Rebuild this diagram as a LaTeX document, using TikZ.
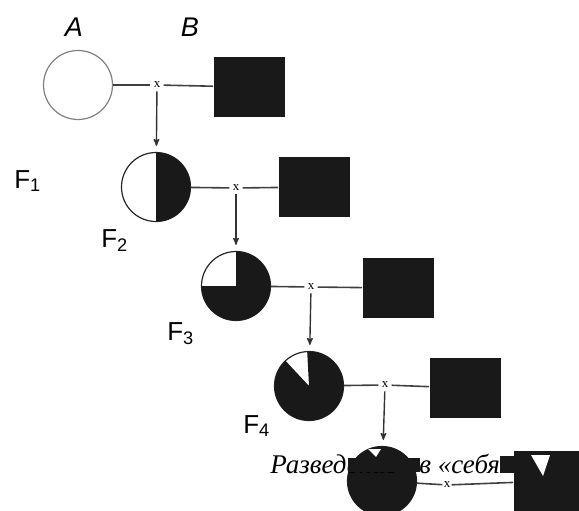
\documentclass[tikz,border=0pt]{standalone}
\usepackage{fontspec}
\setmainfont{Liberation Serif}
\setsansfont{Liberation Sans}
\usetikzlibrary{arrows,positioning}

\begin{document}
\begin{tikzpicture}[x=1pt,y=-1pt]
  \tikzset{
    >=stealth',
    semithick,
    female/.style={circle,draw=black!85,line width=1.2pt,fill=white,minimum size=69pt,inner sep=0pt},
    male/.style={rectangle,fill=black!90,minimum width=71pt,minimum height=60pt,inner sep=0pt},
    cross/.style={font=\fontsize{13}{13}\selectfont,inner sep=3pt},
    parent/.style={font=\sffamily\itshape\fontsize{27}{27}\selectfont},
    gen/.style={font=\sffamily\fontsize{26}{26}\selectfont,anchor=base west,inner sep=0pt},
    note/.style={font=\itshape\fontsize{27}{27}\selectfont,anchor=base west,inner sep=0pt,text depth=0pt},
    link/.style={-,draw=black!75,line width=1.6pt},
    down/.style={->,draw=black!80,line width=1.4pt,shorten >=6pt},
  }
  \useasboundingbox (0,0) rectangle (579,511);

  % parents
  \node [parent] (la) at (74,27)  {A};
  \node [parent] (lb) at (190,27) {B};
  \node [female,draw=black!50] (c0) at (78,85)  {};
  \node [cross] (x0) at (157,85)  {x};
  \node [male]  (s0) at (249,87)  {};

  % backcross generations
  \node [female] (c1) at (156,187) {};
  \node [cross]  (x1) at (236,188) {x};
  \node [male]   (s1) at (314,187) {};

  \node [female] (c2) at (236,286) {};
  \node [cross]  (x2) at (311,287) {x};
  \node [male]   (s2) at (398,288) {};

  \node [female] (c3) at (309,386) {};
  \node [cross]  (x3) at (385,385) {x};
  \node [male]   (s3) at (465,388) {};

  \node [female] (c4) at (382,481) {};
  \node [cross,inner sep=1pt]  (x4) at (447,485) {x};
  \node [male]   (s4) at (549,481) {};

  % black share of each female
  \fill [black!90] (c1.center) -- ++(-90:34.5pt) arc[start angle=-90,end angle=90,radius=34.5pt] -- cycle;
  \fill [black!90] (c2.center) -- ++(180:34.5pt) arc[start angle=180,end angle=450,radius=34.5pt] -- cycle;
  \fill [black!90] (c3.center) -- ++(133:34.5pt) arc[start angle=133,end angle=453,radius=34.5pt] -- cycle;
  \fill [black!90] (c4) circle[radius=34.5pt];
  \fill [white] (368,449) -- (381,449) -- (376,457) -- cycle;

  \node [gen] (f1) at (14,188)  {F\textsubscript{1}};
  \node [gen] (f2) at (101,247) {F\textsubscript{2}};
  \node [gen] (f3) at (167,340) {F\textsubscript{3}};
  \node [gen] (f4) at (243,433) {F\textsubscript{4}};

  \path
  (c0) edge[link] (x0)
  (x0) edge[link] (s0)
       edge[down] (c1)
  (c1) edge[link] (x1)
  (x1) edge[link] (s1)
       edge[down] (c2)
  (c2) edge[link] (x2)
  (x2) edge[link] (s2)
       edge[down] (c3)
  (c3) edge[link] (x3)
  (x3) edge[link] (s3)
       edge[down] (c4)
  (c4) edge[link] (x4)
  (x4) edge[link] (s4);

  % caption over the last cross
  \node [note] (self) at (270,473) {Разведение\hspace{0.8em}в «себя»};
  \fill [black!90] (348,458) rectangle (420,472);
  \fill [black!90] (500,456) rectangle (579,473);
  \fill [white] (531,455) -- (550,455) -- (543,476) -- cycle;
\end{tikzpicture}
\end{document}
